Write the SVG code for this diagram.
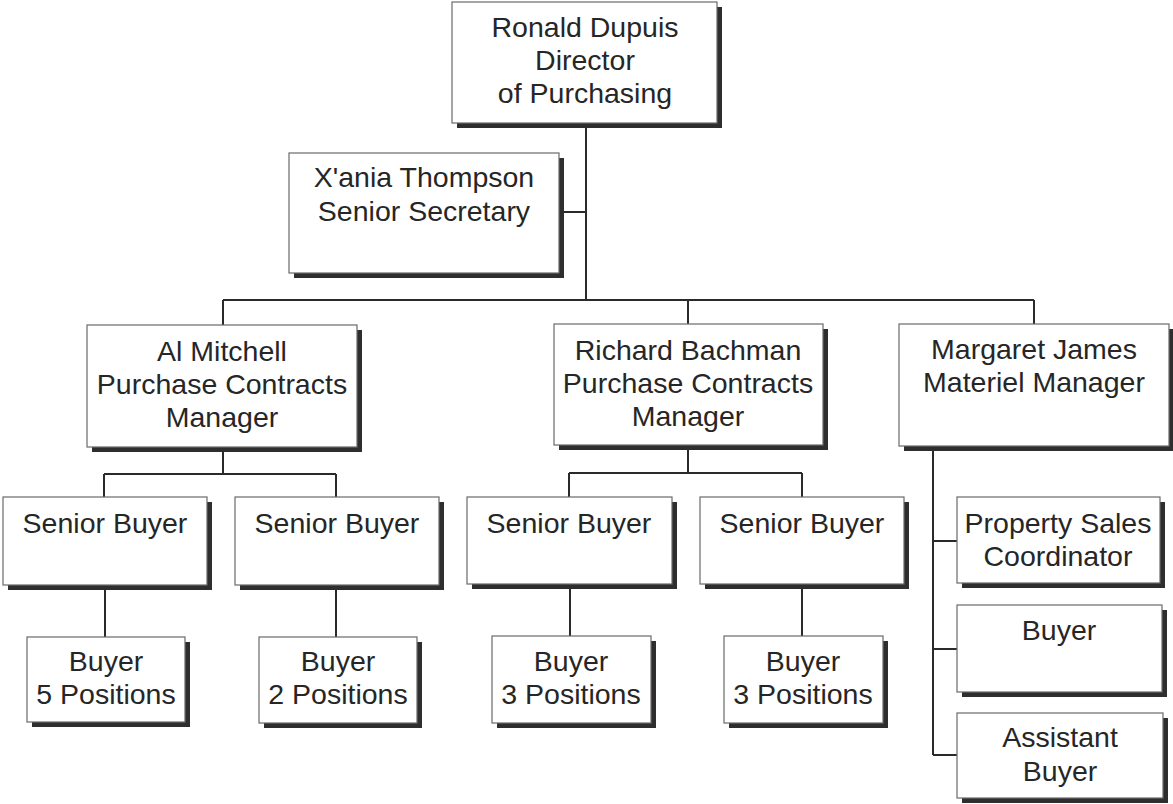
<svg xmlns="http://www.w3.org/2000/svg" width="1173" height="804" viewBox="0 0 1173 804">
<style>
.sh{fill:#2e2e2e}
.bx{fill:#fff;stroke:#6a6a6a;stroke-width:1.2}
.t{font-family:"Liberation Sans",Arial,sans-serif;font-size:28.5px;fill:#262626;text-anchor:middle}
.c{fill:none;stroke:#2a2a2a;stroke-width:2}
</style>
<rect width="1173" height="804" fill="#fff"/>
<g id="connectors">
<path class="c" d="M586 123V300M559 212H586M223 300H1034M223 300V325M688 300V324M1034 300V324"/>
<path class="c" d="M223 447V474M104 474H336M104 474V497M336 474V497M105 585V637M336 585V637"/>
<path class="c" d="M688 445V473M569 473H802M569 473V497M802 473V497M570 584V636M802 584V636"/>
<path class="c" d="M933 446V755M933 541H957M933 649H957M933 755H957"/>
</g>
<g id="director"><rect class="sh" x="457" y="7" width="265" height="121"/><rect class="bx" x="452" y="2" width="265" height="121"/>
<text class="t" x="585" y="37">Ronald Dupuis</text><text class="t" x="585" y="70">Director</text><text class="t" x="585" y="103">of Purchasing</text></g>
<g id="secretary"><rect class="sh" x="294" y="158" width="270" height="120"/><rect class="bx" x="289" y="153" width="270" height="120"/>
<text class="t" x="424" y="187">X'ania Thompson</text><text class="t" x="424" y="221">Senior Secretary</text></g>
<g id="mitchell"><rect class="sh" x="92" y="330" width="270" height="122"/><rect class="bx" x="87" y="325" width="270" height="122"/>
<text class="t" x="222" y="361">Al Mitchell</text><text class="t" x="222" y="394">Purchase Contracts</text><text class="t" x="222" y="427">Manager</text></g>
<g id="bachman"><rect class="sh" x="559" y="329" width="269" height="121"/><rect class="bx" x="554" y="324" width="269" height="121"/>
<text class="t" x="688" y="360">Richard Bachman</text><text class="t" x="688" y="393">Purchase Contracts</text><text class="t" x="688" y="426">Manager</text></g>
<g id="james"><rect class="sh" x="904" y="329" width="270" height="122"/><rect class="bx" x="899" y="324" width="270" height="122"/>
<text class="t" x="1034" y="359">Margaret James</text><text class="t" x="1034" y="392">Materiel Manager</text></g>
<g id="sb1"><rect class="sh" x="8" y="502" width="204" height="88"/><rect class="bx" x="3" y="497" width="204" height="88"/>
<text class="t" x="105" y="533">Senior Buyer</text></g>
<g id="sb2"><rect class="sh" x="240" y="502" width="204" height="88"/><rect class="bx" x="235" y="497" width="204" height="88"/>
<text class="t" x="337" y="533">Senior Buyer</text></g>
<g id="sb3"><rect class="sh" x="472" y="502" width="205" height="87"/><rect class="bx" x="467" y="497" width="205" height="87"/>
<text class="t" x="569" y="533">Senior Buyer</text></g>
<g id="sb4"><rect class="sh" x="705" y="502" width="204" height="87"/><rect class="bx" x="700" y="497" width="204" height="87"/>
<text class="t" x="802" y="533">Senior Buyer</text></g>
<g id="b5"><rect class="sh" x="32" y="642" width="158" height="85"/><rect class="bx" x="27" y="637" width="158" height="85"/>
<text class="t" x="106" y="671">Buyer</text><text class="t" x="106" y="704">5 Positions</text></g>
<g id="b2"><rect class="sh" x="264" y="642" width="158" height="86"/><rect class="bx" x="259" y="637" width="158" height="86"/>
<text class="t" x="338" y="671">Buyer</text><text class="t" x="338" y="704">2 Positions</text></g>
<g id="b3a"><rect class="sh" x="497" y="641" width="159" height="87"/><rect class="bx" x="492" y="636" width="159" height="87"/>
<text class="t" x="571" y="671">Buyer</text><text class="t" x="571" y="704">3 Positions</text></g>
<g id="b3b"><rect class="sh" x="729" y="641" width="159" height="87"/><rect class="bx" x="724" y="636" width="159" height="87"/>
<text class="t" x="803" y="671">Buyer</text><text class="t" x="803" y="704">3 Positions</text></g>
<g id="psc"><rect class="sh" x="962" y="502" width="203" height="86"/><rect class="bx" x="957" y="497" width="203" height="86"/>
<text class="t" x="1058" y="533">Property Sales</text><text class="t" x="1058" y="566">Coordinator</text></g>
<g id="buyer"><rect class="sh" x="962" y="610" width="205" height="87"/><rect class="bx" x="957" y="605" width="205" height="87"/>
<text class="t" x="1059" y="640">Buyer</text></g>
<g id="assistant"><rect class="sh" x="962" y="718" width="206" height="85"/><rect class="bx" x="957" y="713" width="206" height="85"/>
<text class="t" x="1060" y="747">Assistant</text><text class="t" x="1060" y="781">Buyer</text></g>
</svg>
